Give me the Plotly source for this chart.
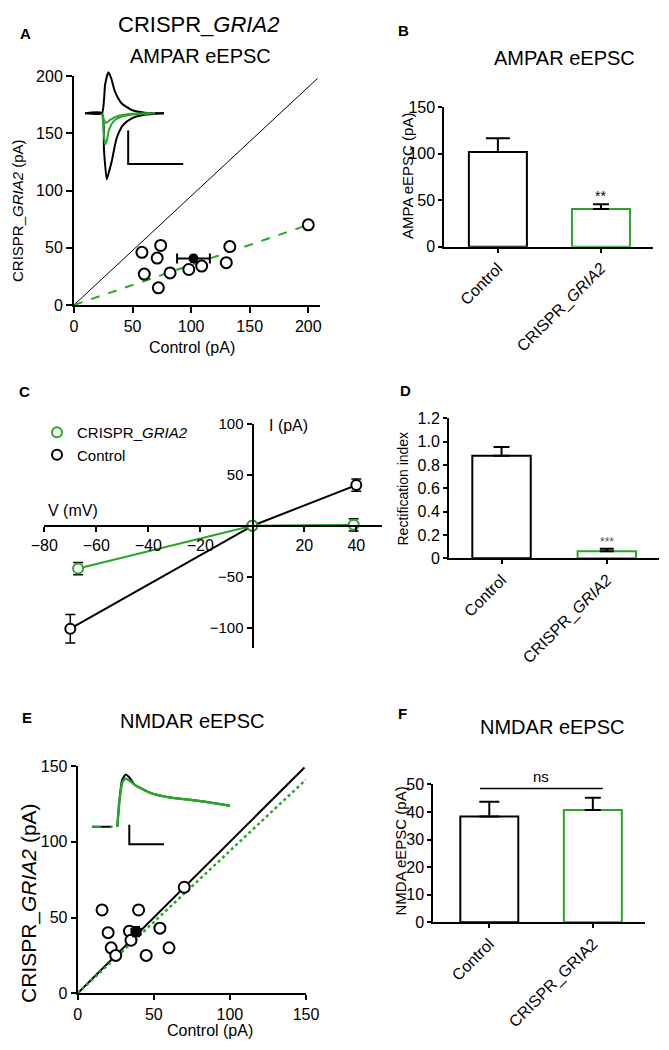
import plotly.graph_objects as go

W, H = 669, 1050
OFF = 8  # page body margin in the viewer
FONT = "Liberation Sans, Arial, sans-serif"
GREEN = "#2aa52a"

# ---- data ----
# A: AMPAR eEPSC pairs (pA)
ampa_ctrl = [58, 74, 71, 60, 82, 72, 98, 109, 130, 133, 200]
ampa_crispr = [46, 52, 41, 27, 28, 15, 31, 34, 37, 51, 70]
ampa_unity_x = [0, 208]
ampa_unity_y = [0, 198]
ampa_fit_x = [0, 200]
ampa_fit_y = [0, 70]

# B: AMPAR eEPSC mean +/- sem
groups = ["Control", "CRISPR_GRIA2"]
ampa_mean = [102, 40.6]
ampa_sem = [14.7, 5.0]
ampa_xsem_ctrl = 14

# A inset traces (ms, pA)
insA_t_pos = [0, 6.1, 6.9, 7.3, 8.5, 9.5, 10.9, 13.3, 17.0, 21.8, 28.7]
insA_i_pos = [0, 0, 40, 85, 123, 106, 65, 30, 10, 2, 0]
insA_t_neg = [0, 6.1, 6.9, 7.9, 8.7, 9.7, 11.5, 13.9, 17.0, 21.2, 28.7]
insA_i_neg = [0, 0, -110, -198, -176, -145, -75, -35, -15, -5, 0]
insA_t_g1 = [6.3, 6.9, 7.3, 8.0, 8.7, 10.3, 13.3, 18.2, 25.5]
insA_i_g1 = [0, -65, -93, -80, -50, -25, -10, -3, 0]
insA_t_g2 = [6.3, 6.9, 7.6, 9.1, 12.0, 16.4, 23.6]
insA_i_g2 = [0, -20, -29, -20, -8, -2, 0]
scaleA_ms, scaleA_pA = 20, 100

# C: I-V relation
iv_v_ctrl = [-70, 0, 40]
iv_i_ctrl = [-101, 0, 40]
iv_e_ctrl = [14, 0, 6]
iv_v_crispr = [-67, 0, 39]
iv_i_crispr = [-42, 0, 1]
iv_e_crispr = [6, 0, 6]

# D: rectification index
rect_mean = [0.88, 0.06]
rect_sem = [0.075, 0.022]

# E: NMDAR eEPSC pairs (pA)
nmda_ctrl = [16, 40, 70, 20, 34, 54, 35, 22, 25, 45, 60]
nmda_crispr = [55, 55, 70, 40, 41, 43, 35, 30, 25, 25, 30]
nmda_unity_x = [0, 149]
nmda_unity_y = [0, 149]
nmda_fit_x = [0, 150]
nmda_fit_y = [0, 141]
nmda_xsem_ctrl, nmda_ysem = 3, 3

# E inset traces (ms, pA)
insE_t_pre = [12, 70]
insE_i_pre = [0, 0]
insE_t_ctrl = [84.4, 90.8, 98, 108, 118.2, 135.4, 183.6, 241.2, 298.6, 356.2, 409.2]
insE_i_ctrl = [0, 27.7, 48.4, 54, 51.5, 43.2, 34.6, 30, 27.7, 24.9, 21.8]
insE_t_crispr = [84.4, 90.8, 99.4, 108, 121, 135.4, 183.6, 241.2, 298.6, 356.2, 409.2]
insE_i_crispr = [0, 27.7, 46.3, 50, 47.4, 43.2, 34.6, 30, 27.7, 24.9, 21.8]
scaleE_ms, scaleE_pA = 100, 20

# F: NMDAR eEPSC mean +/- sem
nmda_mean = [38.3, 40.7]
nmda_sem = [5.4, 4.4]


def fx(px):
    return (px - OFF) / W


def fy(py):
    return 1 - (py - OFF) / H


def ax(**kw):
    base = dict(showgrid=False, zeroline=False, showline=True, linecolor="black", linewidth=2,
                ticks="outside", ticklen=5, tickwidth=2, tickcolor="black",
                tickfont=dict(size=15, color="black", family=FONT))
    base.update(kw)
    return base


fig = go.Figure()

# ---- A ----
fig.add_trace(go.Scatter(x=ampa_unity_x, y=ampa_unity_y, mode="lines",
                         line=dict(color="black", width=1), xaxis="x", yaxis="y"))
fig.add_trace(go.Scatter(x=ampa_fit_x, y=ampa_fit_y, mode="lines",
                         line=dict(color=GREEN, width=2, dash="dash"), xaxis="x", yaxis="y"))
fig.add_trace(go.Scatter(x=ampa_ctrl, y=ampa_crispr, mode="markers",
                         marker=dict(size=11, color="white", line=dict(color="black", width=2)),
                         xaxis="x", yaxis="y"))
fig.add_trace(go.Scatter(x=[ampa_mean[0]], y=[ampa_mean[1]], mode="markers",
                         marker=dict(size=10, color="black"),
                         error_x=dict(type="data", array=[ampa_xsem_ctrl], color="black", thickness=2, width=5),
                         error_y=dict(type="data", array=[3], color="black", thickness=2, width=3),
                         xaxis="x", yaxis="y"))

# A inset
for t, i, c in [(insA_t_pos, insA_i_pos, "black"), (insA_t_neg, insA_i_neg, "black"),
                (insA_t_g1, insA_i_g1, GREEN), (insA_t_g2, insA_i_g2, GREEN)]:
    fig.add_trace(go.Scatter(x=t, y=i, mode="lines", line=dict(color=c, width=2, shape="spline", smoothing=0.6),
                             xaxis="x7", yaxis="y7"))
sbA_t0, sbA_i0 = 15.7, -52
fig.add_trace(go.Scatter(x=[sbA_t0, sbA_t0, sbA_t0 + scaleA_ms], y=[sbA_i0, sbA_i0 - scaleA_pA, sbA_i0 - scaleA_pA],
                         mode="lines", line=dict(color="black", width=2), xaxis="x7", yaxis="y7"))

# ---- B ----
for k, col in enumerate(["black", GREEN]):
    fig.add_trace(go.Bar(x=[k], y=[ampa_mean[k]], width=0.563,
                         marker=dict(color="white", line=dict(color=col, width=2)),
                         error_y=dict(type="data", symmetric=False, array=[ampa_sem[k]], arrayminus=[0],
                                      color="black", thickness=2, width=[12, 8][k]),
                         xaxis="x2", yaxis="y2"))

# ---- C ----
fig.add_trace(go.Scatter(x=iv_v_ctrl, y=iv_i_ctrl, mode="lines+markers",
                         line=dict(color="black", width=2),
                         marker=dict(size=10, color="white", line=dict(color="black", width=2)),
                         error_y=dict(type="data", array=iv_e_ctrl, color="black", thickness=1.5, width=5),
                         xaxis="x3", yaxis="y3"))
fig.add_trace(go.Scatter(x=iv_v_crispr, y=iv_i_crispr, mode="lines+markers",
                         line=dict(color=GREEN, width=2),
                         marker=dict(size=10, color="white", line=dict(color=GREEN, width=2)),
                         error_y=dict(type="data", array=iv_e_crispr, color="black", thickness=1.5, width=5),
                         xaxis="x3", yaxis="y3"))
fig.add_trace(go.Scatter(x=[None], y=[None], mode="markers", name="CRISPR_<i>GRIA2</i>", showlegend=True,
                         marker=dict(size=10, color="white", line=dict(color=GREEN, width=2)),
                         xaxis="x3", yaxis="y3"))
fig.add_trace(go.Scatter(x=[None], y=[None], mode="markers", name="Control", showlegend=True,
                         marker=dict(size=10, color="white", line=dict(color="black", width=2)),
                         xaxis="x3", yaxis="y3"))

# ---- D ----
for k, col in enumerate(["black", GREEN]):
    fig.add_trace(go.Bar(x=[k], y=[rect_mean[k]], width=0.555,
                         marker=dict(color="white", line=dict(color=col, width=2)),
                         error_y=dict(type="data", symmetric=False, array=[rect_sem[k]], arrayminus=[0],
                                      color="black", thickness=2, width=[8, 7][k]),
                         xaxis="x4", yaxis="y4"))

# ---- E ----
fig.add_trace(go.Scatter(x=nmda_unity_x, y=nmda_unity_y, mode="lines",
                         line=dict(color="black", width=2), xaxis="x5", yaxis="y5"))
fig.add_trace(go.Scatter(x=nmda_fit_x, y=nmda_fit_y, mode="lines",
                         line=dict(color=GREEN, width=2.5, dash="dot"), xaxis="x5", yaxis="y5"))
fig.add_trace(go.Scatter(x=nmda_ctrl, y=nmda_crispr, mode="markers",
                         marker=dict(size=11, color="white", line=dict(color="black", width=2)),
                         xaxis="x5", yaxis="y5"))
fig.add_trace(go.Scatter(x=[nmda_mean[0]], y=[nmda_mean[1]], mode="markers",
                         marker=dict(size=10, color="black"),
                         error_x=dict(type="data", array=[nmda_xsem_ctrl], color="black", thickness=2, width=4),
                         error_y=dict(type="data", array=[nmda_ysem], color="black", thickness=2, width=4),
                         xaxis="x5", yaxis="y5"))

# E inset
fig.add_trace(go.Scatter(x=insE_t_pre, y=insE_i_pre, mode="lines", line=dict(color="black", width=2),
                         xaxis="x8", yaxis="y8"))
fig.add_trace(go.Scatter(x=insE_t_pre, y=insE_i_pre, mode="lines", line=dict(color=GREEN, width=2, dash="dash"),
                         xaxis="x8", yaxis="y8"))
fig.add_trace(go.Scatter(x=insE_t_ctrl, y=insE_i_ctrl, mode="lines",
                         line=dict(color="black", width=2, shape="spline", smoothing=0.5), xaxis="x8", yaxis="y8"))
fig.add_trace(go.Scatter(x=insE_t_crispr, y=insE_i_crispr, mode="lines",
                         line=dict(color=GREEN, width=2.5, shape="spline", smoothing=0.5), xaxis="x8", yaxis="y8"))
sbE_t0, sbE_i0 = 119, 2
fig.add_trace(go.Scatter(x=[sbE_t0, sbE_t0, sbE_t0 + scaleE_ms], y=[sbE_i0, sbE_i0 - scaleE_pA, sbE_i0 - scaleE_pA],
                         mode="lines", line=dict(color="black", width=2), xaxis="x8", yaxis="y8"))

# ---- F ----
for k, col in enumerate(["black", GREEN]):
    fig.add_trace(go.Bar(x=[k], y=[nmda_mean[k]], width=0.56,
                         marker=dict(color="white", line=dict(color=col, width=2)),
                         error_y=dict(type="data", symmetric=False, array=[nmda_sem[k]], arrayminus=[0],
                                      color="black", thickness=2, width=[10, 8][k]),
                         xaxis="x6", yaxis="y6"))

fig.update_traces(showlegend=False, hoverinfo="skip", selector=dict(type="bar"))
for tr in fig.data:
    if tr.name is None:
        tr.showlegend = False

bar_ticks = dict(tickvals=[0, 1], tickangle=-45, ticklen=4, tickfont=dict(size=16, color="black", family=FONT))

fig.update_layout(
    width=W, height=H, margin=dict(l=0, r=0, t=0, b=0, autoexpand=False),
    plot_bgcolor="rgba(0,0,0,0)", paper_bgcolor="white",
    font=dict(family=FONT, color="black"),
    barmode="overlay",
    # A
    xaxis=ax(domain=[fx(74), fx(320)], range=[0, 210], tickvals=[0, 50, 100, 150, 200], anchor="y",
             ticklen=6, tickfont=dict(size=16, color="black", family=FONT)),
    yaxis=ax(domain=[fy(305), fy(76)], range=[0, 200], tickvals=[0, 50, 100, 150, 200], anchor="x",
             ticklen=6, tickfont=dict(size=16, color="black", family=FONT)),
    # B
    xaxis2=ax(domain=[fx(444.3), fx(653)], range=[-0.52, 1.505], anchor="y2",
              ticktext=["Control", "CRISPR_<i>GRIA2</i>"], **bar_ticks),
    yaxis2=ax(domain=[fy(246.7), fy(107.3)], range=[0, 150], tickvals=[0, 50, 100, 150], anchor="x2",
              ticklen=4, tickfont=dict(size=16, color="black", family=FONT)),
    # C
    xaxis3=ax(domain=[fx(44.3), fx(382.3)], range=[-80, 50], tickvals=[-80, -60, -40, -20, 20, 40],
              anchor="free", position=fy(526), ticklen=5,
              tickfont=dict(size=16, color="black", family=FONT)),
    yaxis3=ax(domain=[fy(648), fy(424)], range=[-120, 100], tickvals=[-100, -50, 50, 100],
              anchor="free", position=fx(252.5), ticklen=5,
              tickfont=dict(size=15, color="black", family=FONT)),
    # D
    xaxis4=ax(domain=[fx(449), fx(659)], range=[-0.499, 1.496], anchor="y4",
              ticktext=["Control", "CRISPR_<i>GRIA2</i>"], **bar_ticks),
    yaxis4=ax(domain=[fy(558.3), fy(418.3)], range=[0, 1.2], anchor="x4", ticklen=4,
              tickvals=[0, 0.2, 0.4, 0.6, 0.8, 1.0, 1.2], ticktext=["0", "0.2", "0.4", "0.6", "0.8", "1.0", "1.2"],
              tickfont=dict(size=16, color="black", family=FONT)),
    # E
    xaxis5=ax(domain=[fx(77.7), fx(306)], range=[0, 150], tickvals=[0, 50, 100, 150], anchor="y5",
              tickfont=dict(size=16, color="black", family=FONT)),
    yaxis5=ax(domain=[fy(993.3), fy(766)], range=[0, 150], tickvals=[0, 50, 100, 150], anchor="x5",
              tickfont=dict(size=16, color="black", family=FONT)),
    # F
    xaxis6=ax(domain=[fx(433.3), fx(645)], range=[-0.541, 1.504], anchor="y6",
              ticktext=["Control", "CRISPR_GRIA2"], **bar_ticks),
    yaxis6=ax(domain=[fy(922.3), fy(784.3)], range=[0, 50], tickvals=[0, 10, 20, 30, 40, 50], anchor="x6",
              ticklen=4, tickfont=dict(size=16, color="black", family=FONT)),
    # insets
    xaxis7=dict(domain=[fx(85), fx(185)], range=[0, 36.36], visible=False, anchor="y7"),
    yaxis7=dict(domain=[fy(182), fy(70)], range=[-206.3, 130], visible=False, anchor="x7"),
    xaxis8=dict(domain=[fx(88), fx(235)], range=[0, 423.6], visible=False, anchor="y8"),
    yaxis8=dict(domain=[fy(848), fy(770)], range=[-22, 58.8], visible=False, anchor="x8"),
    showlegend=True,
    legend=dict(x=fx(37), y=fy(416), xanchor="left", yanchor="top", bgcolor="rgba(0,0,0,0)",
                font=dict(size=15, color="black", family=FONT), itemwidth=30, tracegroupgap=0),
)


def note(text, x, y, size, angle=0, bold=False, color="black"):
    if bold:
        text = "<b>" + text + "</b>"
    fig.add_annotation(text=text, x=fx(x), y=fy(y), xref="paper", yref="paper", showarrow=False,
                       textangle=angle, xanchor="center", yanchor="middle",
                       font=dict(size=size, color=color, family=FONT))


# panel letters
for lab, x, y in [("A", 25, 33), ("B", 403, 31), ("C", 24, 391), ("D", 405, 390), ("E", 26.5, 717.5), ("F", 402, 713)]:
    note(lab, x, y, 15, bold=True)

# titles
note("CRISPR_<i>GRIA2</i>", 198, 24, 22)
note("AMPAR eEPSC", 200, 56, 20)
note("AMPAR eEPSC", 564, 58, 20)
note("NMDAR eEPSC", 192, 721, 20)
note("NMDAR eEPSC", 552, 727, 20)

# axis titles
note("CRISPR_<i>GRIA2</i> (pA)", 17, 211, 15, angle=-90)
note("Control (pA)", 192, 347.5, 16)
note("AMPA eEPSC (pA)", 407, 176, 15, angle=-90)
note("V (mV)", 72.5, 510, 16)
note("I (pA)", 288, 426, 16)
note("Rectification index", 402.5, 489, 14, angle=-90)
note("CRISPR_<i>GRIA2</i> (pA)", 29, 903, 21, angle=-90)
note("Control (pA)", 210, 1030, 16)
note("NMDA eEPSC (pA)", 400, 850.5, 15, angle=-90)

# significance marks
fig.add_annotation(text="**", x=1, y=ampa_mean[1] + ampa_sem[1], xref="x2", yref="y2", showarrow=False,
                   yanchor="bottom", yshift=-2, font=dict(size=14, color="black", family=FONT))
fig.add_annotation(text="***", x=1, y=rect_mean[1] + rect_sem[1], xref="x4", yref="y4", showarrow=False,
                   yanchor="bottom", yshift=-2, font=dict(size=12, color="#555555", family=FONT))
fig.add_shape(type="line", x0=-0.09, x1=1.096, y0=48.5, y1=48.5, xref="x6", yref="y6",
              line=dict(color="black", width=1.5))
fig.add_annotation(text="ns", x=0.5, y=48.5, xref="x6", yref="y6", showarrow=False,
                   yanchor="bottom", yshift=1, font=dict(size=15, color="black", family=FONT))

fig.write_html("out.html")
